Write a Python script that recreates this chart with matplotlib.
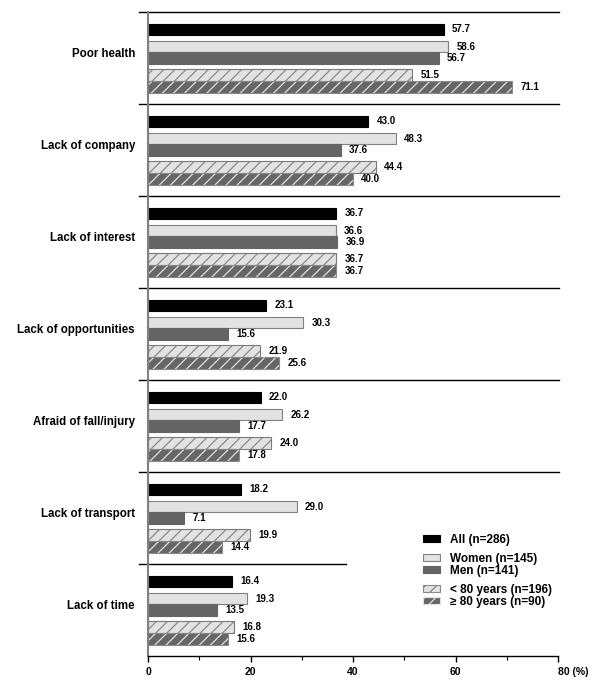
import matplotlib.pyplot as plt
from matplotlib.patches import Patch

plt.rcParams['font.family'] = ['Liberation Sans', 'DejaVu Sans']
plt.rcParams['font.weight'] = 'bold'
plt.rcParams['hatch.linewidth'] = 0.9

# Data (%)
categories = ['Poor health', 'Lack of company', 'Lack of interest', 'Lack of opportunities',
              'Afraid of fall/injury', 'Lack of transport', 'Lack of time']
all_vals = [57.7, 43.0, 36.7, 23.1, 22.0, 18.2, 16.4]
women_vals = [58.6, 48.3, 36.6, 30.3, 26.2, 29.0, 19.3]
men_vals = [56.7, 37.6, 36.9, 15.6, 17.7, 7.1, 13.5]
under80_vals = [51.5, 44.4, 36.7, 21.9, 24.0, 19.9, 16.8]
over80_vals = [71.1, 40.0, 36.7, 25.6, 17.8, 14.4, 15.6]
series_labels = ['All (n=286)', 'Women (n=145)', 'Men (n=141)',
                 '< 80 years (n=196)', '\u2265 80 years (n=90)']
x_ticks = [0, 20, 40, 60, 80]
x_ticklabels = ['0', '20', '40', '60', '80 (%)']

series = [all_vals, women_vals, men_vals, under80_vals, over80_vals]

# style per series: face, edge, hatch, hatch colour
styles = [
    ('#000000', '#000000', None, '#000000'),
    ('#e2e2e2', '#808080', None, '#808080'),
    ('#646464', '#646464', None, '#646464'),
    ('#e2e2e2', '#7a7a7a', '///', '#8a8a8a'),
    ('#666666', '#8a8a8a', '///', '#e0e0e0'),
]
offsets = [-0.31, -0.125, 0.005, 0.185, 0.315]
bar_h = 0.13

fig = plt.figure(figsize=(6, 6.91), dpi=100)
ax = fig.add_axes([148 / 600, 35 / 691, 410 / 600, 644 / 691])

for vals, (face, edge, hatch, hcol), off in zip(series, styles, offsets):
    ys = [i + 0.5 + off for i in range(len(categories))]
    ax.barh(ys, vals, height=bar_h, color=face, edgecolor=hcol, hatch=hatch, linewidth=0)
    ax.barh(ys, vals, height=bar_h, fill=False, edgecolor=edge, linewidth=0.8)
    for y, v in zip(ys, vals):
        ax.annotate(f'{v:.1f}', (v, y), xytext=(6, 0), textcoords='offset points',
                    va='center', ha='left', fontsize=7)

# group separators
for k in range(len(categories)):
    xmax = 1.002 if k < len(categories) - 1 else 38.6 / 80
    ax.axhline(k, xmin=-0.022, xmax=xmax, color='black', lw=1, clip_on=False)

ax.set_xlim(0, 80)
ax.set_ylim(len(categories), 0)
ax.set_xticks(x_ticks)
ax.set_xticklabels(x_ticklabels)
ax.get_xticklabels()[-1].set_ha('left')
ax.set_xticks([10, 30, 50, 70], minor=True)
ax.tick_params(axis='x', which='major', length=4, width=1, labelsize=7.5, pad=4)
ax.tick_params(axis='x', which='minor', length=3, width=0.8)
ax.set_yticks([i + 0.5 - 0.065 for i in range(len(categories))])
ax.set_yticklabels(categories)
ax.tick_params(axis='y', length=0, pad=9.4, labelsize=8.3)

ax.spines['top'].set_visible(False)
ax.spines['right'].set_visible(False)
ax.spines['left'].set_color('#808080')
ax.spines['left'].set_linewidth(1.5)
ax.spines['bottom'].set_linewidth(1)

# legend entries, grouped like the bars
legend_y = [540, 559, 571, 590, 602]
for label, (face, edge, hatch, hcol), ly in zip(series_labels, styles, legend_y):
    handle = Patch(facecolor=face, edgecolor=hcol if hatch else edge, hatch=hatch, linewidth=0.8)
    fig.legend(handles=[handle], labels=[label], loc='center left',
               bbox_to_anchor=(423 / 600, 1 - ly / 691), frameon=False,
               borderpad=0, borderaxespad=0, handlelength=1.43, handleheight=0.5,
               handletextpad=0.84, fontsize=8.5)

fig.savefig('out.png', dpi=100)
